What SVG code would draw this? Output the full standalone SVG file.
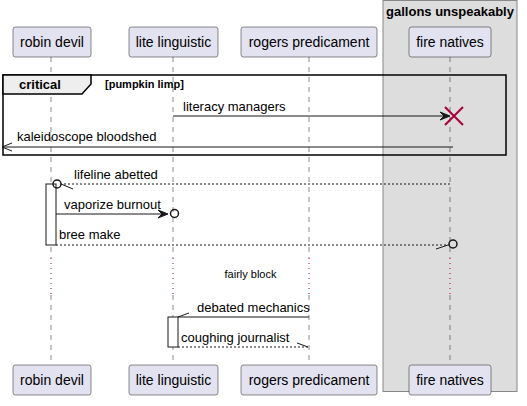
<svg xmlns="http://www.w3.org/2000/svg" width="527" height="406" viewBox="0 0 527 406">
<style>
text{font-family:"Liberation Sans",Arial,sans-serif;fill:#000}
.p rect{fill:#E2E2F0;stroke:#181818;stroke-width:0.5}
.p text{font-size:14px;text-anchor:middle}
.ll{stroke:#181818;stroke-width:0.5;stroke-dasharray:5,5}
.dl{stroke:#A80036;stroke-width:1;stroke-dasharray:1,4}
.m{stroke:#181818;stroke-width:1;fill:none}
.d{stroke:#181818;stroke-width:1;stroke-dasharray:2,2;fill:none}
.lbl{font-size:13px}
.act{fill:#FFFFFF;stroke:#181818;stroke-width:1}
</style>
<rect x="383" y="0.5" width="134" height="391" fill="#DDDDDD" stroke="#888888" stroke-width="1"/>
<text x="450" y="16" font-size="13" font-weight="bold" text-anchor="middle">gallons unspeakably</text>
<g id="lifelines">
<path class="ll" d="M51,57V258M51,295V365M173,57V258M173,295V365M309,57V258M309,295V365M450,57V258M450,295V365"/>
<path class="dl" d="M51,258V295M173,258V295M309,258V295M450,258V295"/>
</g>
<g id="robin-devil" class="p"><rect x="13" y="27" width="78" height="30" rx="2.5"/><text x="52" y="47">robin devil</text><rect x="13" y="365" width="78" height="30" rx="2.5"/><text x="52" y="385">robin devil</text></g>
<g id="lite-linguistic" class="p"><rect x="129" y="27" width="89" height="30" rx="2.5"/><text x="173.5" y="47">lite linguistic</text><rect x="129" y="365" width="89" height="30" rx="2.5"/><text x="173.5" y="385">lite linguistic</text></g>
<g id="rogers-predicament" class="p"><rect x="241" y="27" width="136" height="30" rx="2.5"/><text x="309" y="47">rogers predicament</text><rect x="241" y="365" width="136" height="30" rx="2.5"/><text x="309" y="385">rogers predicament</text></g>
<g id="fire-natives" class="p"><rect x="409" y="27" width="82" height="30" rx="2.5"/><text x="450" y="47">fire natives</text><rect x="409" y="365" width="82" height="30" rx="2.5"/><text x="450" y="385">fire natives</text></g>
<g id="critical-frame">
<rect x="3" y="75" width="503" height="80" fill="none" stroke="#000000" stroke-width="1.5"/>
<path d="M3,75H91V84L82,94H3Z" fill="#EEEEEE" stroke="#000000" stroke-width="1.5"/>
<text x="19" y="89" font-size="13" font-weight="bold">critical</text>
<text x="105" y="88" font-size="11" font-weight="bold">[pumpkin limp]</text>
</g>
<g id="activations">
<rect class="act" x="46" y="184" width="10" height="61"/>
<rect class="act" x="168" y="317" width="10" height="30"/>
</g>
<g id="connectors">
<path class="m" d="M173,116H446"/>
<polygon points="450,116 440,112 444,116 440,120" fill="#181818" stroke="#181818"/>
<path d="M445,107L463,125M463,107L445,125" stroke="#A80036" stroke-width="2"/>
<text class="lbl" x="183" y="111">literacy managers</text>
<path class="m" d="M453,147H2"/>
<path class="m" d="M12,143L2,147L12,151" stroke-width="1.5"/>
<text class="lbl" x="17" y="141">kaleidoscope bloodshed</text>
<path class="d" d="M450,184H61"/>
<circle cx="57" cy="184" r="4" fill="none" stroke="#181818" stroke-width="1.5"/>
<path class="m" d="M61,184L73,189"/>
<text class="lbl" x="74" y="179">lifeline abetted</text>
<path class="m" d="M56,214H165"/>
<polygon points="168,214 158,210 162,214 158,218" fill="#181818" stroke="#181818"/>
<circle cx="174.5" cy="213.5" r="4" fill="none" stroke="#181818" stroke-width="1.5"/>
<text class="lbl" x="64" y="209">vaporize burnout</text>
<path class="d" d="M56,245H449"/>
<circle cx="453" cy="244" r="4" fill="none" stroke="#181818" stroke-width="1.5"/>
<path class="m" d="M436,249L448,245"/>
<text class="lbl" x="59" y="239">bree make</text>
<text x="250.5" y="278" font-size="11" text-anchor="middle">fairly block</text>
<path class="m" d="M309,317H178"/>
<path class="m" d="M178,317L189,313"/>
<text class="lbl" x="197" y="312">debated mechanics</text>
<path class="d" d="M178,347H309"/>
<path class="m" d="M297,343L308,347"/>
<text class="lbl" x="181" y="342">coughing journalist</text>
</g>
</svg>
